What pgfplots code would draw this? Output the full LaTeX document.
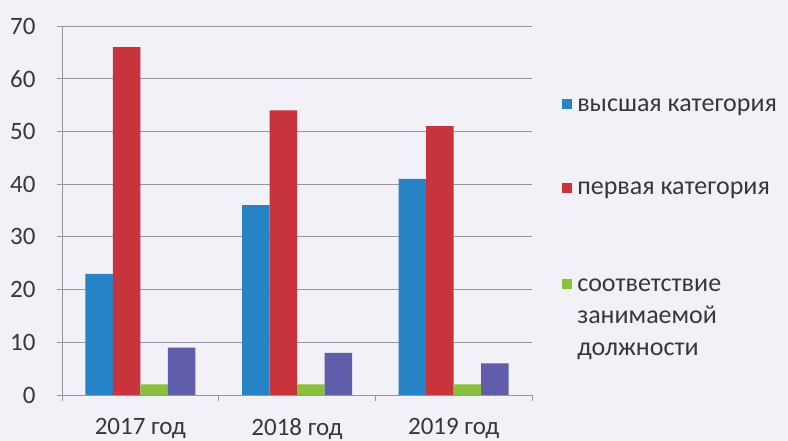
\documentclass[border=0pt]{standalone}
\usepackage{fontspec}
\setmainfont{Carlito}
\usepackage{xcolor}
\usepackage{pgfplots}
\pgfplotsset{compat=1.18}
\definecolor{bg}{RGB}{241,241,247}
\definecolor{cblue}{RGB}{38,132,198}
\definecolor{cred}{RGB}{200,52,60}
\definecolor{cgreen}{RGB}{138,192,62}
\definecolor{cpurple}{RGB}{96,94,170}
\definecolor{cgrid}{RGB}{150,150,158}

\begin{document}
\begin{tikzpicture}
\fill[bg] (0,0) rectangle (788pt,441pt);
\path[use as bounding box] (0,0) rectangle (788pt,441pt);
\begin{axis}[
  at={(62pt,46pt)}, anchor=south west,
  scale only axis, width=470pt, height=369pt,
  ymin=0, ymax=70, ytick={0,10,...,70},
  xmin=-0.5, xmax=2.5,
  xtick={0,1,2},
  xticklabels={2017 год,2018 год,2019 год},
  minor xtick={-0.5,0.5,1.5,2.5},
  axis lines*=left,
  axis line style={cgrid, line width=0.8pt},
  ymajorgrids, grid style={cgrid, line width=0.8pt},
  tick align=outside, major tick length=5pt, minor tick length=6pt,
  major x tick style={draw=none},
  minor x tick style={cgrid, line width=0.8pt},
  y tick style={cgrid, line width=0.8pt},
  /pgf/number format/assume math mode=true,
  ticklabel style={font=\fontsize{25}{25}\selectfont, text=black!78},
  yticklabel style={xshift=-18pt},
  xticklabel style={yshift=-15pt},
  ybar=0pt, bar width=27.5pt,
  legend image code/.code={\fill[#1] (0pt,2pt) rectangle (10pt,12pt);},
  legend style={at={(1.064,0.805)}, anchor=north west, draw=none, fill=none,
    inner sep=0pt, row sep=55pt, column sep=4pt,
    font=\fontsize{26}{32}\selectfont, text=black!78,
    nodes={inner sep=1pt}, cells={anchor=base west}},
]
\addplot[fill=cblue, draw=none] coordinates {(0,23) (1,36) (2,41)};
\addplot[fill=cred, draw=none] coordinates {(0,66) (1,54) (2,51)};
\addplot[fill=cgreen, draw=none] coordinates {(0,2) (1,2) (2,2)};
\addplot[fill=cpurple, draw=none] coordinates {(0,9) (1,8) (2,6)};
\legend{\raisebox{0pt}[12pt][6pt]{высшая категория},
  \raisebox{0pt}[25pt][6pt]{первая категория},
  \raisebox{0pt}[38pt][6pt]{\begin{tabular}[t]{@{}l@{}}соответствие\\занимаемой\\должности\end{tabular}}}
\end{axis}
\end{tikzpicture}
\end{document}
